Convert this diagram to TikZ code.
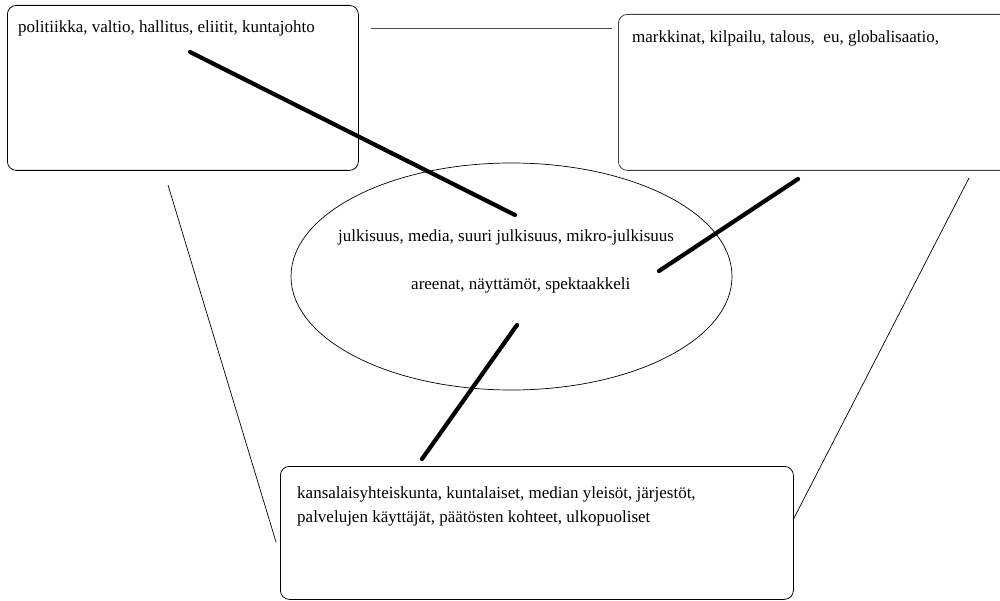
\documentclass[tikz,border=0pt]{standalone}
\usepackage{fontspec}
\setmainfont{Liberation Serif}
\usetikzlibrary{shapes.geometric}
\begin{document}
\begin{tikzpicture}[x=1pt,y=-1pt,
  box/.style={draw=black,line width=0.8pt,rounded corners=9pt,minimum width=#1,anchor=north west,inner sep=0pt},
  lbl/.style={anchor=base west,inner sep=0pt,font=\fontsize{17pt}{24pt}\selectfont},
  thin/.style={line width=0.7pt,draw=black},
  thick/.style={line width=4.2pt,line cap=round,draw=black}]
\useasboundingbox (0,0) rectangle (1000,601);
\clip (0,0) rectangle (1000,601);
\fill[white] (0,0) rectangle (1000,601);
% boxes
\node[box=351pt,minimum height=165pt] (pol) at (7,5) {};
\node[box=400pt,minimum height=156pt,draw=black!75] (mar) at (618,14) {};
\node[box=513pt,minimum height=133pt] (kan) at (280,466) {};
\node[draw=black,line width=0.7pt,ellipse,minimum width=441pt,minimum height=227pt,inner sep=0pt] (jul) at (511.5,276.5) {};
% texts
\node[lbl] (tpol) at (18,33) {politiikka, valtio, hallitus, eliitit, kuntajohto};
\node[lbl] (tmar) at (632,43) {markkinat, kilpailu, talous,\ \ eu, globalisaatio,};
\node[lbl] (tjul) at (338,242) {julkisuus, media, suuri julkisuus, mikro-julkisuus};
\node[lbl] (tare) at (411,290) {areenat, näyttämöt, spektaakkeli};
\node[lbl] (tkan1) at (297,498) {kansalaisyhteiskunta, kuntalaiset, median yleisöt, järjestöt,};
\node[lbl] (tkan2) at (297,522) {palvelujen käyttäjät, päätösten kohteet, ulkopuoliset};
% connector end points
\coordinate (a1) at (190,52);  \coordinate (a2) at (515,215);
\coordinate (b1) at (798,179); \coordinate (b2) at (659,271);
\coordinate (c1) at (517,325); \coordinate (c2) at (422,459);
\coordinate (h1) at (371,28);  \coordinate (h2) at (612,28);
\coordinate (l1) at (168,185); \coordinate (l2) at (276,542);
\coordinate (r1) at (969,178); \coordinate (r2) at (793,520);
% thin lines
\draw[thin,draw=black!70] (h1) -- (h2);
\draw[thin] (l1) -- (l2);
\draw[thin] (r1) -- (r2);
% thick lines
\draw[thick] (a1) -- (a2);
\draw[thick] (b1) -- (b2);
\draw[thick] (c1) -- (c2);
\end{tikzpicture}
\end{document}
